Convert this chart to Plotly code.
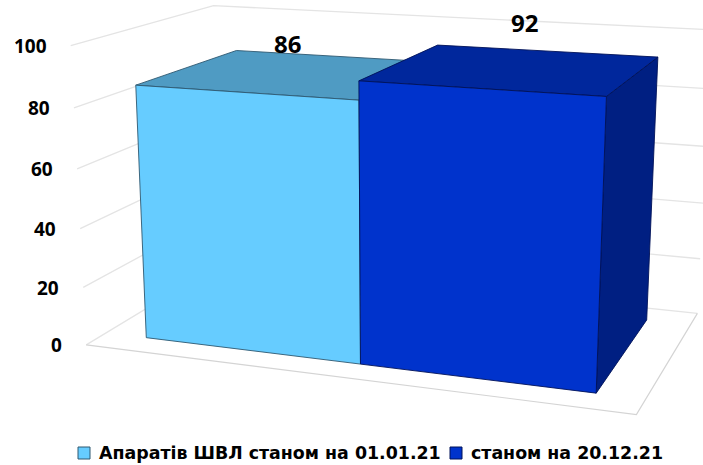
import numpy as np
import plotly.graph_objects as go

# ---- data ----
SERIES_NAMES = ["Апаратів ШВЛ станом на 01.01.21", "станом на 20.12.21"]
SERIES_VALUES = [86, 92]
AXIS_TICKS = [0, 20, 40, 60, 80, 100]
AXIS_MAX = 100

# ---- styles ----
FRONT = ["#66CCFF", "#0033CC"]
TOP = ["#4F9BC3", "#00279C"]
SIDE = ["#3F7FA0", "#001F82"]
EDGE = ["#2E5870", "#001258"]
GRID = "#E4E4E4"
FLOOR = "#D4D4D4"
FONT = "Open Sans"
LEGEND_FONT = "DejaVu Sans"

# ---- 3-D view of the chart box: category x in 0..n, depth y in 0..1, value z ----
VIEW = np.array([[239.849202, 172.062741, -18.911093, 86.226189],
                 [11.891375, -36.996324, -301.434844, 344.834035],
                 [-0.055362, 0.168944, -0.048055, 1.0]])
GAP = 0.165      # free space at the sides of the bar row
DEPTH_GAP = 0.13 # free space in front of and behind the bars
N = len(SERIES_VALUES)


def project(x, y, z):
    h = VIEW @ np.array([x, y, z / AXIS_MAX, 1.0])
    return h[0] / h[2], h[1] / h[2]


def path(points):
    xy = [project(*p) for p in points]
    return [a for a, _ in xy], [b for _, b in xy]


fig = go.Figure()


def line(points, color, width=1.0):
    xs, ys = path(points)
    fig.add_trace(go.Scatter(x=xs, y=ys, mode="lines", line=dict(color=color, width=width),
                             showlegend=False, hoverinfo="skip"))


def face(points, fill, edge):
    xs, ys = path(points + points[:1])
    fig.add_trace(go.Scatter(x=xs, y=ys, mode="lines", fill="toself", fillcolor=fill,
                             line=dict(color=edge, width=0.9), showlegend=False, hoverinfo="skip"))


# walls
for t in AXIS_TICKS[1:]:
    line([(0, 0, t), (0, 1, t), (N, 1, t)], GRID, 1.3)
line([(0, 0, 0), (0, 1, 0), (N, 1, 0)], GRID, 1.3)
# floor
line([(0, 0, 0), (N, 0, 0), (N, 1, 0)], FLOOR, 1.2)

# bars: each series fills its own slot, the two slots touch
x_edges = [GAP, 1.0, N - GAP]
y0, y1 = DEPTH_GAP, 1 - DEPTH_GAP
for i, v in enumerate(SERIES_VALUES):
    a, b = x_edges[i], x_edges[i + 1]
    if i == N - 1:
        face([(b, y0, 0), (b, y1, 0), (b, y1, v), (b, y0, v)], SIDE[i], EDGE[i])
    face([(a, y0, v), (b, y0, v), (b, y1, v), (a, y1, v)], TOP[i], EDGE[i])
    face([(a, y0, 0), (b, y0, 0), (b, y0, v), (a, y0, v)], FRONT[i], EDGE[i])

# value labels
LABEL_SHIFT = [(-5.5, -29.6), (9.5, -45.8)]
for i, v in enumerate(SERIES_VALUES):
    px, py = project((x_edges[i] + x_edges[i + 1]) / 2, 0.5, v)
    fig.add_annotation(x=px + LABEL_SHIFT[i][0], y=py + LABEL_SHIFT[i][1], text=f"<b>{v}</b>",
                       showarrow=False, font=dict(family=FONT, size=24, color="#000000"),
                       xanchor="center", yanchor="middle")

# axis labels
for t in AXIS_TICKS:
    px, py = project(0, 0, t)
    fig.add_annotation(x=px - 22, y=py + 0.5, text=f"<b>{t}</b>", showarrow=False,
                       font=dict(family=FONT, size=19, color="#000000"),
                       xanchor="right", yanchor="middle")

# legend row
LEGEND_KEYS_X = [84, 456]
LEGEND_Y = 453
for i, name in enumerate(SERIES_NAMES):
    fig.add_trace(go.Scatter(x=[LEGEND_KEYS_X[i]], y=[LEGEND_Y], mode="markers", name=name,
                             marker=dict(symbol="square", size=12, color=FRONT[i],
                                         line=dict(color=EDGE[i], width=1)),
                             showlegend=False, hoverinfo="skip"))
    fig.add_annotation(x=LEGEND_KEYS_X[i] + 13, y=LEGEND_Y, text=f"<b>{name}</b>", showarrow=False,
                       font=dict(family=LEGEND_FONT, size=17.4, color="#000000"),
                       xanchor="left", yanchor="middle")

fig.update_layout(width=703, height=465, margin=dict(l=0, r=0, t=0, b=0),
                  paper_bgcolor="#FFFFFF", plot_bgcolor="#FFFFFF", showlegend=False,
                  xaxis=dict(range=[0, 703], visible=False, fixedrange=True),
                  yaxis=dict(range=[465, 0], visible=False, fixedrange=True))
fig.write_html("out.html", config={"displayModeBar": False},
               post_script="document.body.style.margin='0';document.documentElement.style.overflow='hidden';")
